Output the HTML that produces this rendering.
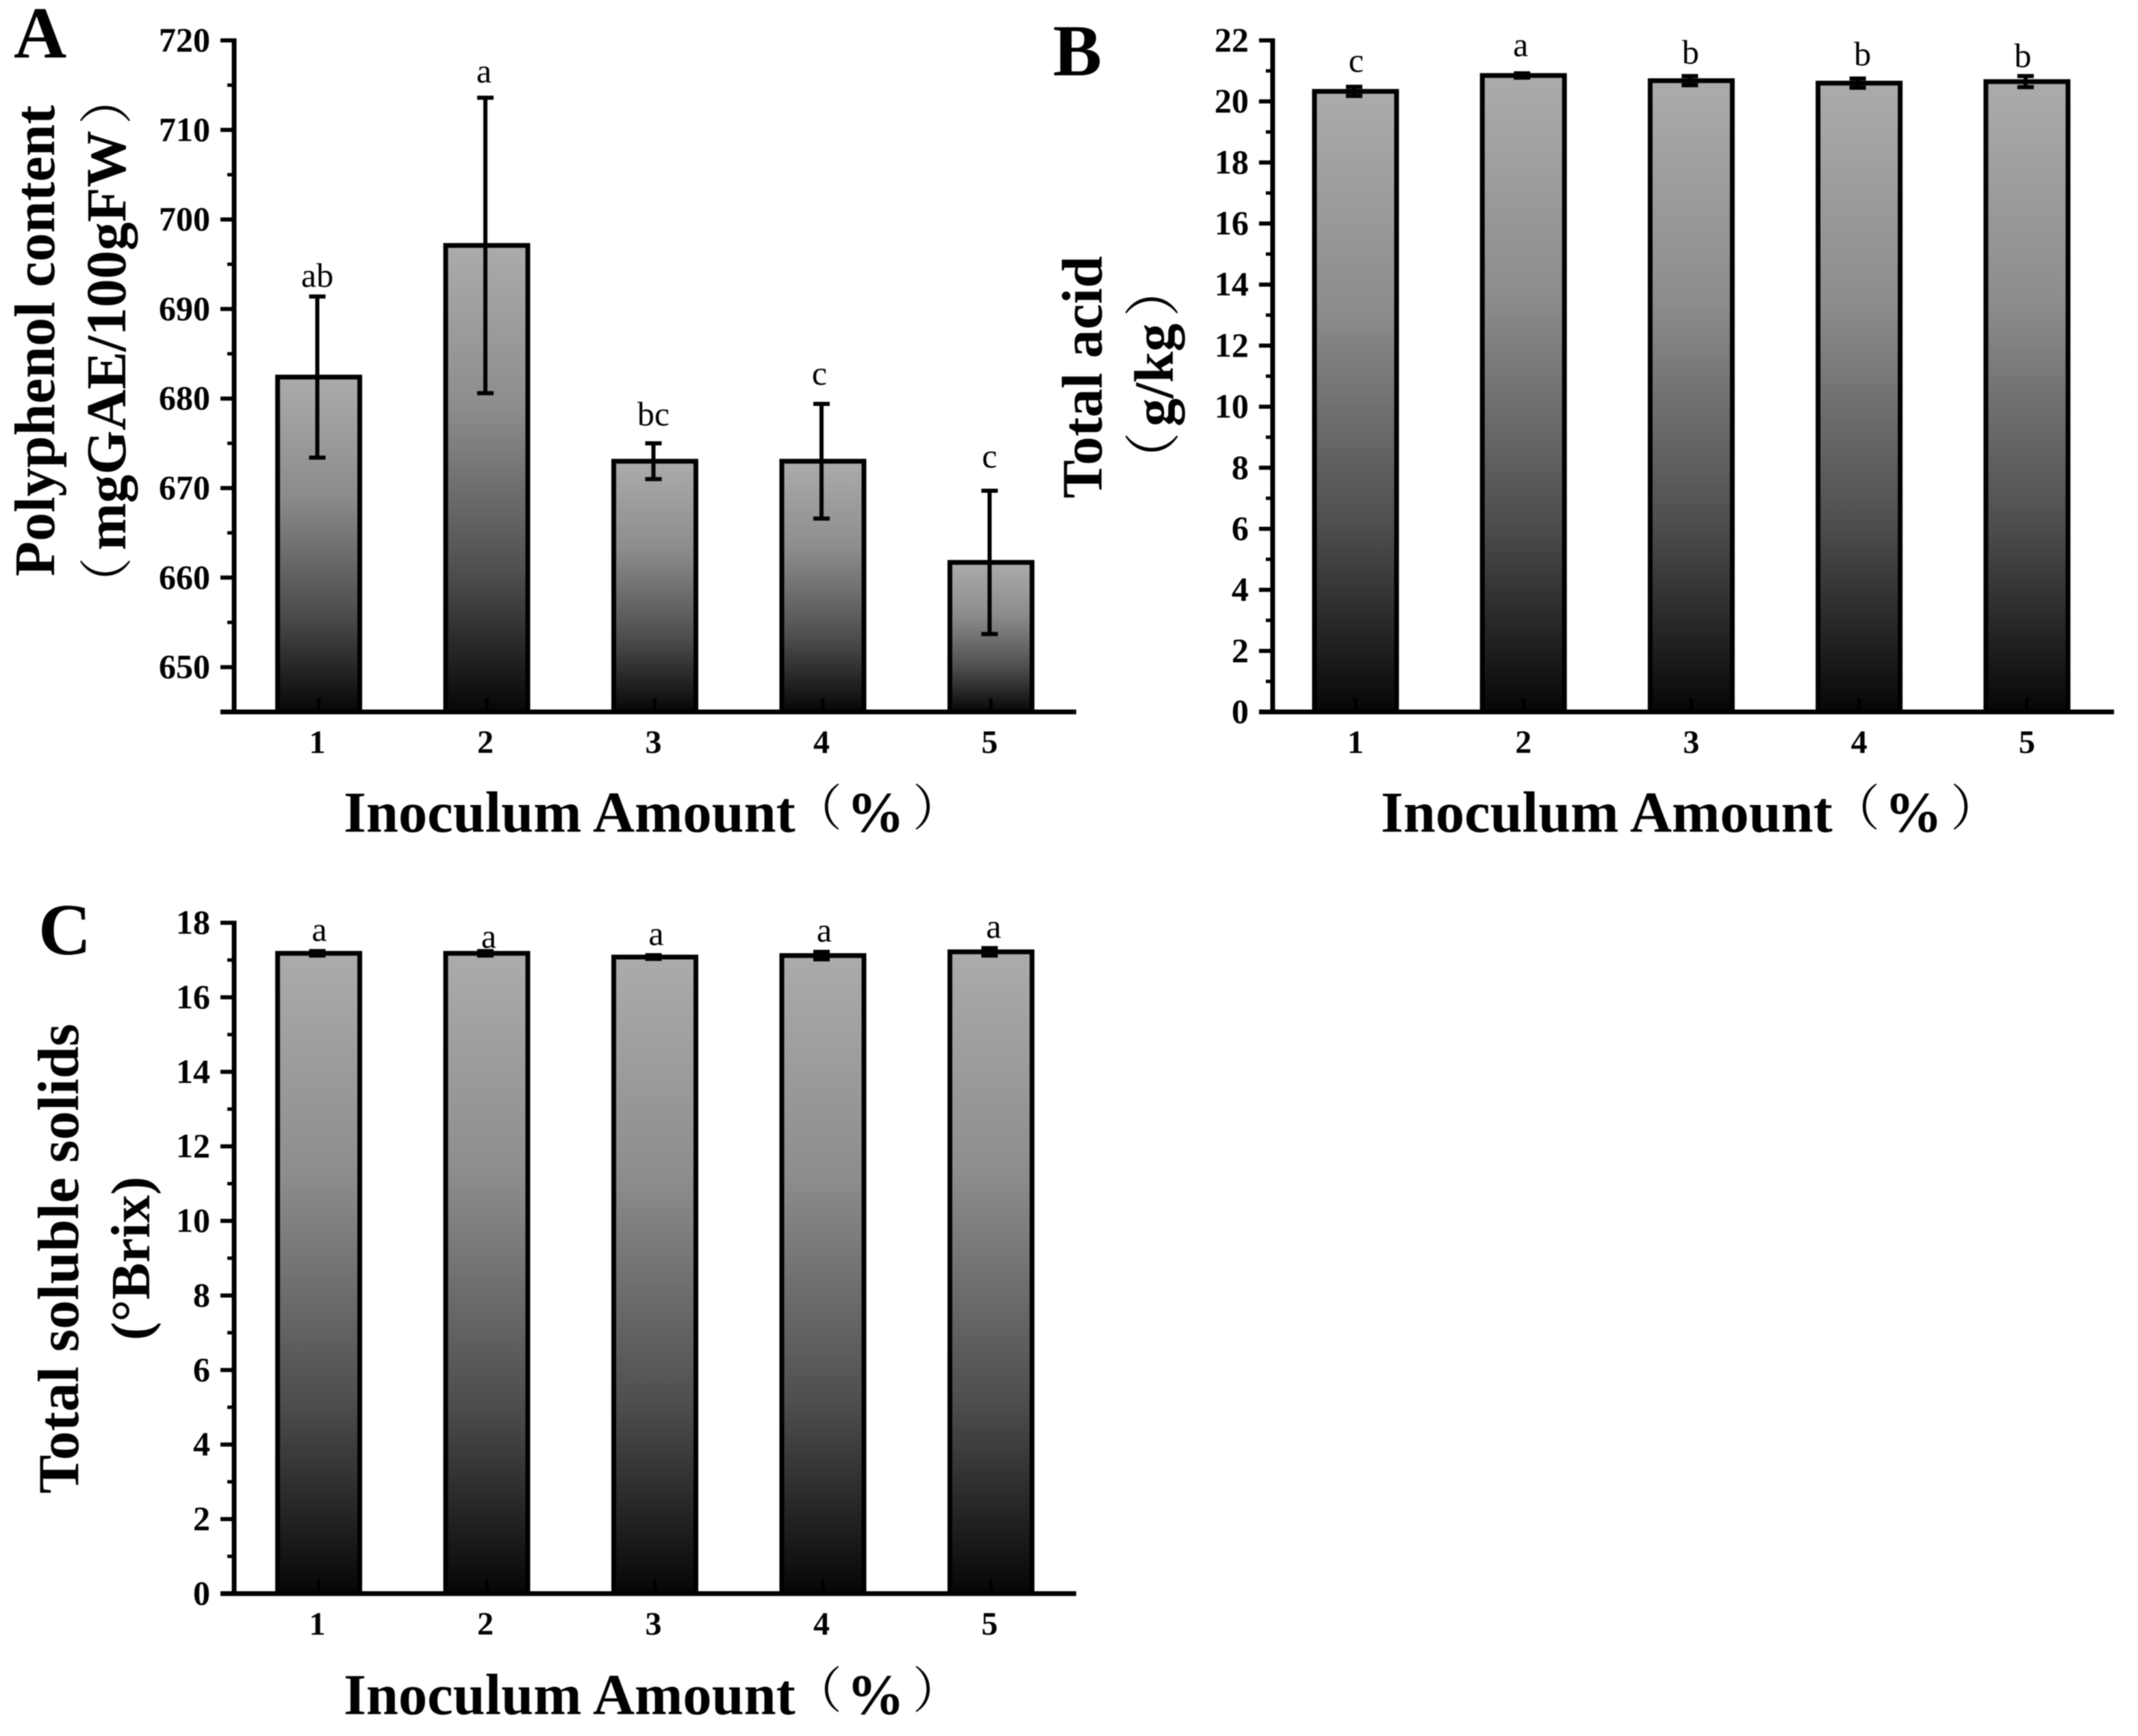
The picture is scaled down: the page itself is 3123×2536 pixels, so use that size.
<!DOCTYPE html>
<html lang="en">
<head>
<meta charset="utf-8">
<title>Inoculum amount bar charts</title>
<style>
html,body{margin:0;padding:0;background:#fff;}
svg{display:block;}
text{font-family:"Liberation Serif","Noto Serif CJK SC",serif;fill:#000;}
.cjk{font-family:"Noto Serif CJK SC","Liberation Serif",serif;font-weight:400;}
</style>
</head>
<body>
<svg id="figure" width="3123" height="2536" viewBox="0 0 3123 2536" xmlns="http://www.w3.org/2000/svg">
<defs>
<linearGradient id="barFill" x1="0" y1="0" x2="0" y2="1">
<stop offset="0" stop-color="#ababab"/>
<stop offset="0.35" stop-color="#8c8c8c"/>
<stop offset="0.7" stop-color="#4e4e4e"/>
<stop offset="1" stop-color="#060606"/>
</linearGradient>
<filter id="soft" x="0" y="0" width="100%" height="100%" color-interpolation-filters="sRGB"><feGaussianBlur stdDeviation="0.9"/></filter>
</defs>
<g id="root" filter="url(#soft)">
<rect x="0" y="0" width="3123" height="2536" fill="#fff"/>

<text x="20" y="84" font-size="107" font-weight="700">A</text>
<text x="1538" y="110" font-size="107" font-weight="700">B</text>
<text x="56" y="1394" font-size="107" font-weight="700">C</text>

<g>
<text transform="translate(79,842) rotate(-90)" font-size="84" font-weight="700">Polyphenol content</text>
<text class="cjk" transform="translate(183,892) rotate(-90)" font-size="78">（</text>
<text transform="translate(183,804) rotate(-90)" font-size="83" font-weight="700">mgGAE/100gFW</text>
<text class="cjk" transform="translate(183,182) rotate(-90)" font-size="78">）</text>
</g>

<g>
<text transform="translate(1609,728) rotate(-90)" font-size="84" font-weight="700">Total acid</text>
<text class="cjk" transform="translate(1713,713) rotate(-90)" font-size="82">（</text>
<text transform="translate(1713,623) rotate(-90)" font-size="82" font-weight="700">g/kg</text>
<text class="cjk" transform="translate(1713,463) rotate(-90)" font-size="82">）</text>
</g>

<g>
<text transform="translate(114,2182) rotate(-90)" font-size="85" font-weight="700">Total soluble solids</text>
<text transform="translate(218,1958) rotate(-90)" font-size="81" font-weight="700">(°Brix)</text>
</g>

<g>
<text x="502" y="1215" font-size="84.5" font-weight="700">Inoculum Amount</text>
<text class="cjk" x="1158" y="1206" font-size="72">（</text>
<text x="1237" y="1215" font-size="84" font-weight="700">%</text>
<text class="cjk" x="1333" y="1206" font-size="72">）</text>
</g>
<g>
<text x="2017" y="1215" font-size="84.5" font-weight="700">Inoculum Amount</text>
<text class="cjk" x="2674" y="1206" font-size="72">（</text>
<text x="2753" y="1215" font-size="84" font-weight="700">%</text>
<text class="cjk" x="2849" y="1206" font-size="72">）</text>
</g>
<g>
<text x="502" y="2504" font-size="84.5" font-weight="700">Inoculum Amount</text>
<text class="cjk" x="1158" y="2495" font-size="72">（</text>
<text x="1237" y="2504" font-size="84" font-weight="700">%</text>
<text class="cjk" x="1333" y="2495" font-size="72">）</text>
</g>
</g>
</svg>
<script>
const categories = ["1", "2", "3", "4", "5"];

const polyphenolValues = [682.4, 697.1, 673.0, 673.0, 661.7];
const polyphenolErrors = [9.0, 16.5, 2.0, 6.4, 8.0];
const polyphenolLetters = ["ab", "a", "bc", "c", "c"];
const polyphenolTicks = [650, 660, 670, 680, 690, 700, 710, 720];

const acidValues = [20.33, 20.85, 20.68, 20.6, 20.65];
const acidErrors = [0.15, 0.07, 0.15, 0.15, 0.18];
const acidLetters = ["c", "a", "b", "b", "b"];
const acidTicks = [0, 2, 4, 6, 8, 10, 12, 14, 16, 18, 20, 22];

const solidsValues = [17.18, 17.18, 17.08, 17.12, 17.22];
const solidsErrors = [0.06, 0.06, 0.05, 0.1, 0.1];
const solidsLetters = ["a", "a", "a", "a", "a"];
const solidsTicks = [0, 2, 4, 6, 8, 10, 12, 14, 16, 18];

const NS = "http://www.w3.org/2000/svg";
const root = document.getElementById("root");

function make(parent, tag, attrs, text) {
  const node = document.createElementNS(NS, tag);
  for (const key in attrs) node.setAttribute(key, attrs[key]);
  if (text !== undefined) node.textContent = text;
  parent.appendChild(node);
  return node;
}

function drawPanel(p) {
  const yOf = v => p.baseY - (v - p.domainMin) * (p.baseY - p.topY) / (p.domainMax - p.domainMin);
  const xOf = i => p.firstX + i * p.stepX;

  const panel = make(root, "g", {});
  
  

  categories.forEach((cat, i) => {
    const barTop = yOf(p.values[i]);
    const bar = make(panel, "rect", {
      x: xOf(i) - 60, y: barTop, width: 120, height: p.baseY - barTop,
      fill: "url(#barFill)", stroke: "#000", "stroke-width": 7
    });
    
    

    const errTop = yOf(p.values[i] + p.errors[i]);
    const errBottom = yOf(p.values[i] - p.errors[i]);
    const error = make(panel, "path", {
      d: "M" + (xOf(i) - 2) + " " + errTop + "V" + errBottom +
         "M" + (xOf(i) - 14) + " " + errTop + "H" + (xOf(i) + 10) +
         "M" + (xOf(i) - 14) + " " + errBottom + "H" + (xOf(i) + 10),
      fill: "none", stroke: "#000", "stroke-width": 6
    });
    
    

    const letter = make(panel, "text", {
      x: xOf(i) + p.letterDx[i], y: errTop - p.letterGap[i],
      "font-size": 50, "text-anchor": "middle"
    }, p.letters[i]);
    
    

    const tick = make(panel, "line", {
      x1: xOf(i), x2: xOf(i), y1: p.baseY, y2: p.baseY - 20, stroke: "#000", "stroke-width": 5
    });
    
    

    const label = make(panel, "text", {
      x: xOf(i) + p.labelDx, y: p.baseY + 60, "font-size": 48, "font-weight": 700, "text-anchor": "middle"
    }, cat);
    
    
  });

  const yAxis = make(panel, "line", {
    x1: p.axisX, x2: p.axisX, y1: p.topY - 3, y2: p.baseY + 3, stroke: "#000", "stroke-width": 7
  });
  
  

  const xAxis = make(panel, "line", {
    x1: p.axisX - 20, x2: p.axisEnd, y1: p.baseY, y2: p.baseY, stroke: "#000", "stroke-width": 7
  });
  
  

  p.ticks.forEach((t) => {
    const major = make(panel, "line", {
      x1: p.axisX - 20, x2: p.axisX, y1: yOf(t), y2: yOf(t), stroke: "#000", "stroke-width": 6
    });
    
    

    const label = make(panel, "text", {
      x: p.axisX - 35, y: yOf(t) + 16, "font-size": 50, "font-weight": 700, "text-anchor": "end"
    }, String(t));
    
    

    const mid = t - (p.ticks[1] - p.ticks[0]) / 2;
    if (mid >= p.domainMin) {
      const minor = make(panel, "line", {
        x1: p.axisX - 10, x2: p.axisX, y1: yOf(mid), y2: yOf(mid), stroke: "#000", "stroke-width": 5
      });
      
      
    }
  });
}

drawPanel({
  id: "polyphenol", values: polyphenolValues, errors: polyphenolErrors, letters: polyphenolLetters, ticks: polyphenolTicks,
  domainMin: 645, domainMax: 720, topY: 59, baseY: 1040, axisX: 342, axisEnd: 1572, firstX: 465.5, stepX: 245.5, labelDx: -2,
  letterDx: [-2, -4, -2, -5, -2], letterGap: [14, 22, 26, 28, 34]
});
drawPanel({
  id: "acid", values: acidValues, errors: acidErrors, letters: acidLetters, ticks: acidTicks,
  domainMin: 0, domainMax: 22, topY: 59, baseY: 1040, axisX: 1859, axisEnd: 3088, firstX: 1980, stepX: 245.2, labelDx: 0,
  letterDx: [1, -4, -1, 5, -6], letterGap: [22, 25, 18, 19, 13]
});
drawPanel({
  id: "solids", values: solidsValues, errors: solidsErrors, letters: solidsLetters, ticks: solidsTicks,
  domainMin: 0, domainMax: 18, topY: 1348, baseY: 2328, axisX: 342, axisEnd: 1572, firstX: 465.5, stepX: 245.5, labelDx: -2,
  letterDx: [1, 3, 2, 2, 4], letterGap: [15, 5, 15, 15, 15]
});
</script>
</body>
</html>
